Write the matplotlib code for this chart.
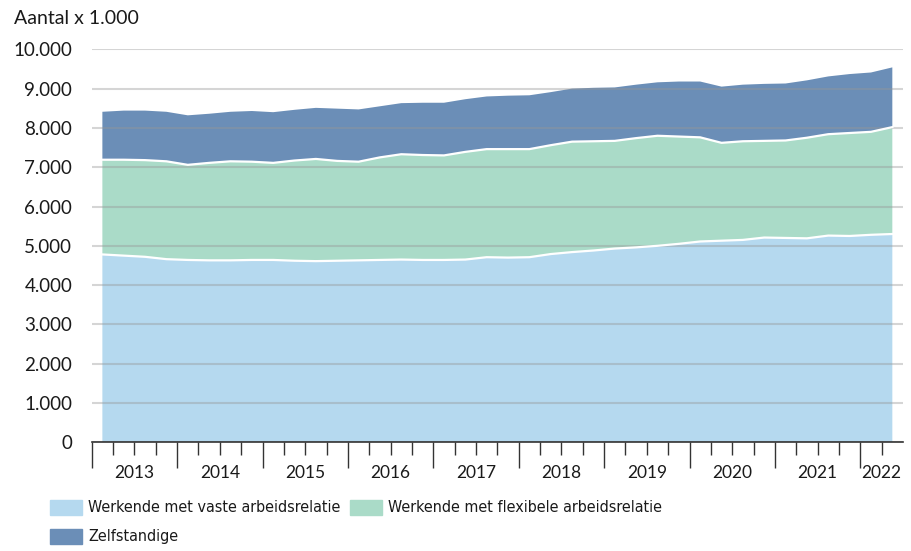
import numpy as np
import matplotlib
matplotlib.use("Agg")
import matplotlib.pyplot as plt
from matplotlib import font_manager as fm
from matplotlib.patches import Rectangle
from matplotlib.transforms import blended_transform_factory

plt.rcParams['font.family'] = ['Lato', 'DejaVu Sans']

# quarterly data, 2013 Q1 .. 2022 Q2, x 1.000
years = [2013, 2014, 2015, 2016, 2017, 2018, 2019, 2020, 2021, 2022]
vast = [4780, 4750, 4720, 4660, 4640, 4630, 4630, 4640, 4640, 4620,
        4610, 4620, 4630, 4640, 4650, 4640, 4640, 4650, 4710, 4700,
        4710, 4790, 4840, 4880, 4930, 4960, 5000, 5050, 5110, 5130,
        5150, 5210, 5200, 5190, 5260, 5250, 5280, 5300]
flex = [2410, 2440, 2460, 2490, 2420, 2480, 2520, 2500, 2470, 2550,
        2600, 2540, 2510, 2610, 2680, 2670, 2660, 2740, 2750, 2760,
        2750, 2770, 2810, 2780, 2740, 2780, 2800, 2730, 2650, 2490,
        2510, 2460, 2480, 2560, 2580, 2620, 2620, 2720]
zelf = [1220, 1250, 1260, 1260, 1260, 1250, 1260, 1290, 1290, 1290,
        1300, 1330, 1330, 1300, 1300, 1330, 1340, 1340, 1340, 1360,
        1370, 1350, 1350, 1360, 1360, 1360, 1360, 1400, 1420, 1430,
        1440, 1450, 1450, 1460, 1470, 1500, 1510, 1520]
labels = ['Werkende met vaste arbeidsrelatie',
          'Werkende met flexibele arbeidsrelatie',
          'Zelfstandige']
colors = ['#b5d9ef', '#aadbc8', '#6b8eb7']
txt = '#1a1a1a'

# narrow regular face for the legend if one is around
narrow = None
for f in fm.fontManager.ttflist:
    cond = 'condensed' in str(f.stretch).lower() or 'Narrow' in f.name or 'Condensed' in f.name
    if cond and f.style == 'normal' and f.weight in (400, 'normal', 'regular', 'book'):
        if 'Bold' in f.fname or 'Oblique' in f.fname or 'Italic' in f.fname:
            continue
        narrow = f
        break

n = len(vast)
x = np.arange(n) + 0.5

fig = plt.figure(figsize=(9.12, 5.51), dpi=100)
ax = fig.add_axes([91.7 / 912, 1 - 442.3 / 551, (903 - 91.7) / 912, 393 / 551])

ax.stackplot(x, vast, flex, zelf, colors=colors, linewidth=0)
c1 = np.array(vast)
c2 = c1 + np.array(flex)
ax.plot(x, c1, color='white', lw=1.6, zorder=3)
ax.plot(x, c2, color='white', lw=1.6, zorder=3)

ax.set_xlim(0, 38)
ax.set_ylim(0, 10000)

yt = np.arange(0, 10001, 1000)
ax.set_yticks(yt)
ax.set_yticklabels(['0'] + [f'{v // 1000}.000' for v in yt[1:]])
ax.tick_params(axis='y', length=0, pad=14, labelsize=13.5, labelcolor=txt)
ax.grid(axis='y', color='#969696', alpha=0.4, lw=1.5, zorder=4)
ax.set_axisbelow(False)

ax.set_xticks(np.arange(0, 37, 4))
ax.set_xticklabels([])
ax.set_xticks([q for q in range(1, 38) if q % 4], minor=True)
ax.tick_params(axis='x', which='major', length=18.5, width=1, color='#333333')
ax.tick_params(axis='x', which='minor', length=9.5, width=1, color='#333333')

for s in ['top', 'right', 'left']:
    ax.spines[s].set_visible(False)
ax.spines['bottom'].set_color('#333333')
ax.spines['bottom'].set_linewidth(1.2)
ax.spines['bottom'].set_zorder(5)

trans = blended_transform_factory(ax.transData, ax.transAxes)
for k, yr in enumerate(years):
    cx = k * 4 + 2 if yr != 2022 else 37
    ax.text(cx, -0.078, str(yr), transform=trans, ha='center', va='center',
            fontsize=12.5, color=txt)

fig.text(14 / 912, 1 - 19 / 551, 'Aantal x 1.000', ha='left', va='center',
         fontsize=14, color=txt)

# legend
if narrow is not None:
    lprops = dict(fontproperties=fm.FontProperties(fname=narrow.fname, size=11.5))
else:
    lprops = dict(fontsize=11.5, family=['Lato', 'DejaVu Sans'])

renderer = fig.canvas.get_renderer()


def legend_item(lx, ly, lab, col):
    fig.patches.append(Rectangle((lx / 912, 1 - (ly + 7.5) / 551), 32 / 912, 15 / 551,
                                 transform=fig.transFigure, color=col))
    t = fig.text((lx + 38) / 912, 1 - ly / 551, lab, ha='left', va='center',
                 color=txt, **lprops)
    return t.get_window_extent(renderer).x1


end1 = legend_item(50, 507, labels[0], colors[0])
legend_item(max(279, end1 + 10), 507, labels[1], colors[1])
legend_item(50, 536, labels[2], colors[2])

fig.savefig('out.png', dpi=100)
